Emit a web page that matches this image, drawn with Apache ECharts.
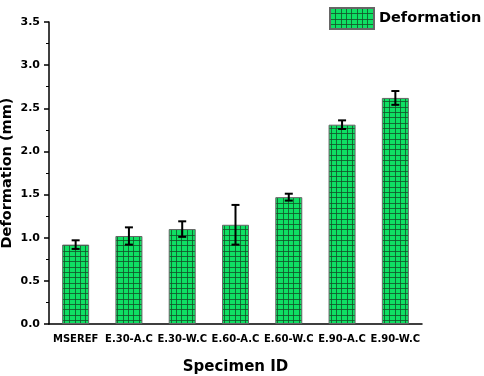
<!DOCTYPE html>
<html>
<head>
<meta charset="utf-8">
<script src="https://cdn.jsdelivr.net/npm/echarts@6/dist/echarts.min.js"></script>
<style>
  html, body { margin: 0; padding: 0; background: #fff; }
  #chart { width: 484px; height: 376px; }
</style>
</head>
<body>
<div id="chart"></div>
<script>
// data
const specimens = ['MSEREF', 'E.30-A.C', 'E.30-W.C', 'E.60-A.C', 'E.60-W.C', 'E.90-A.C', 'E.90-W.C'];
const deformation = [0.92, 1.02, 1.10, 1.15, 1.47, 2.31, 2.62];
const errors = [0.05, 0.10, 0.09, 0.23, 0.04, 0.05, 0.08];
const yTicks = [0, 0.5, 1.0, 1.5, 2.0, 2.5, 3.0, 3.5];

const FONT = '"DejaVu Sans", sans-serif';

// green grid hatch pattern
function makePattern() {
    const c = document.createElement('canvas');
    c.width = 16; c.height = 16;
    const ctx = c.getContext('2d');
    ctx.fillStyle = '#0fe063';
    ctx.fillRect(0, 0, 16, 16);
    ctx.fillStyle = 'rgba(20,80,40,0.8)';
    [0, 5, 11].forEach(p => {
        ctx.fillRect(p, 0, 1, 16);
        ctx.fillRect(0, p, 16, 1);
    });
    return c;
}
const pattern = { image: makePattern(), repeat: 'repeat' };

const errData = specimens.map((s, i) => [i, deformation[i] - errors[i], deformation[i] + errors[i]]);

var chartDom = document.getElementById('chart');
var myChart = echarts.init(chartDom);

var option = {
    animation: false,
    grid: { left: 49, right: 62, top: 22, bottom: 52, containLabel: false, outerBoundsMode: 'none' },
    legend: {
        data: ['Deformation'],
        left: 324, top: 2,
        icon: 'rect',
        itemWidth: 44, itemHeight: 21,
        textStyle: { fontFamily: FONT, fontWeight: 'bold', fontSize: 14.5, color: '#000' }
    },
    xAxis: {
        type: 'category',
        data: specimens,
        name: 'Specimen ID',
        nameLocation: 'middle',
        nameGap: 36,
        nameMoveOverlap: false,
        nameTextStyle: { fontFamily: FONT, fontWeight: 'bold', fontSize: 15, color: '#000' },
        axisLine: { lineStyle: { color: '#000', width: 1.5 } },
        axisTick: { length: 4, lineStyle: { color: '#000', width: 1.5 } },
        axisLabel: { fontFamily: FONT, fontWeight: 'bold', fontSize: 10, color: '#000', margin: 10, interval: 0 }
    },
    yAxis: {
        type: 'value',
        min: 0, max: 3.5, interval: 0.5,
        name: 'Deformation (mm)',
        nameLocation: 'middle',
        nameGap: 34,
        nameMoveOverlap: false,
        nameTextStyle: { fontFamily: FONT, fontWeight: 'bold', fontSize: 14.5, color: '#000' },
        splitLine: { show: false },
        axisLine: { show: true, lineStyle: { color: '#000', width: 1.5 } },
        axisTick: { show: true, length: 5, lineStyle: { color: '#000', width: 1.5 } },
        minorTick: { show: true, splitNumber: 2, length: 3, lineStyle: { color: '#000', width: 1 } },
        axisLabel: {
            fontFamily: FONT, fontWeight: 'bold', fontSize: 11, color: '#000', margin: 9,
            formatter: v => yTicks.indexOf(v) >= 0 ? v.toFixed(1) : ''
        }
    },
    series: [
        {
            name: 'Deformation',
            type: 'bar',
            data: deformation,
            barWidth: 27,
            itemStyle: { color: pattern, borderColor: '#666', borderWidth: 1 }
        },
        {
            name: 'err',
            type: 'custom',
            data: errData,
            z: 10,
            renderItem: function (params, api) {
                const x = api.value(0);
                const lo = api.coord([x, api.value(1)]);
                const hi = api.coord([x, api.value(2)]);
                const hw = 4;
                const style = { stroke: '#000', lineWidth: 2 };
                return {
                    type: 'group',
                    children: [
                        { type: 'line', shape: { x1: lo[0], y1: lo[1], x2: hi[0], y2: hi[1] }, style: style },
                        { type: 'line', shape: { x1: lo[0] - hw, y1: lo[1], x2: lo[0] + hw, y2: lo[1] }, style: style },
                        { type: 'line', shape: { x1: hi[0] - hw, y1: hi[1], x2: hi[0] + hw, y2: hi[1] }, style: style }
                    ]
                };
            }
        }
    ]
};

myChart.setOption(option);
window.addEventListener('resize', () => myChart.resize());
</script>
</body>
</html>
